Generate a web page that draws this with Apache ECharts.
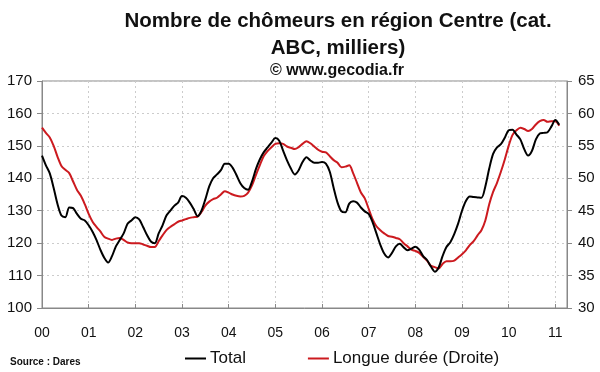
<!DOCTYPE html>
<html>
<head>
<meta charset="utf-8">
<script src="https://cdn.jsdelivr.net/npm/echarts@6/dist/echarts.min.js"></script>
<style>html,body{margin:0;padding:0;background:#fff}#c{width:600px;height:372px}</style>
</head>
<body>
<div id="c"></div>
<script>
// Monthly data, Jan 2000 .. Feb 2011
var yearLabels = ['00','01','02','03','04','05','06','07','08','09','10','11'];
var total = [
147,144,141.5,137,132,128.5,128,131,130.8,129,127.5,127,
125.5,123.5,121,118,115.5,114,116,119,121,123,126,127,
128,127.3,125,122.5,120.5,120,123,125.5,128.5,130,131.5,132.5,
134.5,134,132.5,130.5,128.3,130,133.5,137.5,140,141.2,142.5,144.5,
144.5,143.3,141,138.5,137,136.5,139,142.8,145.8,148,149.5,151,
152.4,151.6,148.5,145.5,143,141.2,142.5,145,146.5,145.5,144.8,144.8,
145,144.5,142,137,132.5,129.8,129.5,132.2,132.9,132.5,131,129.8,
129,126.5,123,119.5,116.8,115.6,117,119,119.8,118.7,117.8,118.3,
118.9,118,116,114.8,112.8,111.2,112.5,116,118.8,120.3,122.8,126,
130,133,134.4,134.2,134.1,134,137.5,143,147.5,149.5,150.5,152.5,
154.8,155,153.5,152,149,147,148.5,152,153.8,154,154.2,156,
158,156.5
];
var longueDuree = [
57.8,57,56.3,55,53.3,51.9,51.3,50.8,49.5,48.2,47.3,46,
44.5,43.3,42.5,41.8,41,40.7,40.5,40.7,40.8,40.5,40.1,40,
40,40,39.8,39.6,39.4,39.4,40.3,41.2,42,42.5,42.9,43.3,
43.5,43.7,43.9,44,44.1,44.8,45.8,46.4,46.8,47,47.5,48,
47.8,47.5,47.3,47.2,47.3,47.8,48.9,50.5,52,53.4,54.2,54.8,
55.3,55.4,55.3,54.9,54.7,54.5,54.8,55.3,55.7,55.4,54.9,54.4,
54.1,54,53.4,52.8,52.4,51.7,51.8,52,50.8,49.3,47.8,46.9,
45.3,43.7,42.6,42,41.5,41.1,41,40.8,40.6,40,39.5,39,
38.8,38.5,37.9,37.3,36.5,36.3,36.1,36.8,37.2,37.2,37.3,37.8,
38.3,38.9,39.7,40.3,41.2,42,43.5,46,47.9,49.3,51,52.9,
55,56.7,57.4,57.8,57.6,57.3,57.6,58.3,58.8,59,58.7,58.8,
58.8,58.1
];
var nMonths = 136; // axis runs to Apr 2011
var months = [];
for (var i = 0; i < nMonths; i++) {
  var y = Math.floor(i / 12), m = i % 12;
  months.push(yearLabels[y] + '-' + (m + 1));
}

var chart = echarts.init(document.getElementById('c'), null, {renderer: 'canvas'});
var FONT = '"Liberation Sans", Arial, sans-serif';
chart.setOption({
  animation: false,
  backgroundColor: '#fff',
  title: [
    {text: 'Nombre de chômeurs en région Centre (cat.\nABC, milliers)', left: 333, top: 3, textAlign: 'center',
     textStyle: {fontFamily: FONT, fontWeight: 'bold', fontSize: 20.5, lineHeight: 27, color: '#111'}},
    {text: '© www.gecodia.fr', left: 332, top: 58, textAlign: 'center',
     textStyle: {fontFamily: FONT, fontWeight: 'bold', fontSize: 16, color: '#111'}},
    {text: 'Source : Dares', left: 5, top: 352,
     textStyle: {fontFamily: FONT, fontWeight: 'bold', fontSize: 10, color: '#111'}}
  ],
  legend: {
    left: 180, top: 345, itemGap: 62, itemWidth: 21, itemHeight: 2,
    icon: 'rect',
    textStyle: {fontFamily: FONT, fontSize: 17, color: '#111', padding: [0, 0, 0, -1]},
    data: [{name: 'Total'}, {name: 'Longue durée (Droite)'}]
  },
  grid: {left: 42, right: 33, top: 81, bottom: 64, show: true, borderColor: '#888', borderWidth: 1},
  xAxis: {
    type: 'category', data: months, boundaryGap: false,
    axisLine: {lineStyle: {color: '#888'}},
    axisTick: {show: true, inside: true, length: 4, interval: 11, lineStyle: {color: '#888'}},
    axisLabel: {interval: 11, margin: 18, fontFamily: FONT, fontSize: 14, color: '#111',
      formatter: function (v) { return v.split('-')[0]; }},
    splitLine: {show: true, interval: 11, lineStyle: {color: '#ccc', type: [2, 3]}}
  },
  yAxis: [
    {type: 'value', min: 100, max: 170, interval: 10, position: 'left',
     axisLine: {show: true, lineStyle: {color: '#888'}},
     axisTick: {show: true, length: 5, lineStyle: {color: '#888'}},
     axisLabel: {margin: 10, fontFamily: FONT, fontSize: 15, color: '#111'},
     splitLine: {show: true, lineStyle: {color: '#ccc', type: [2, 3]}}},
    {type: 'value', min: 30, max: 65, interval: 5, position: 'right',
     axisLine: {show: true, lineStyle: {color: '#888'}},
     axisTick: {show: true, length: 5, lineStyle: {color: '#888'}},
     axisLabel: {margin: 11, fontFamily: FONT, fontSize: 15, color: '#111'},
     splitLine: {show: false}}
  ],
  series: [
    {name: 'Total', type: 'line', yAxisIndex: 0, data: total, symbol: 'none', smooth: 0.3,
     lineStyle: {color: '#000', width: 2}, itemStyle: {color: '#000'}, z: 3},
    {name: 'Longue durée (Droite)', type: 'line', yAxisIndex: 1, data: longueDuree, symbol: 'none', smooth: 0.3,
     lineStyle: {color: '#cc1a1f', width: 2}, itemStyle: {color: '#cc1a1f'}, z: 2}
  ]
});
</script>
</body>
</html>
